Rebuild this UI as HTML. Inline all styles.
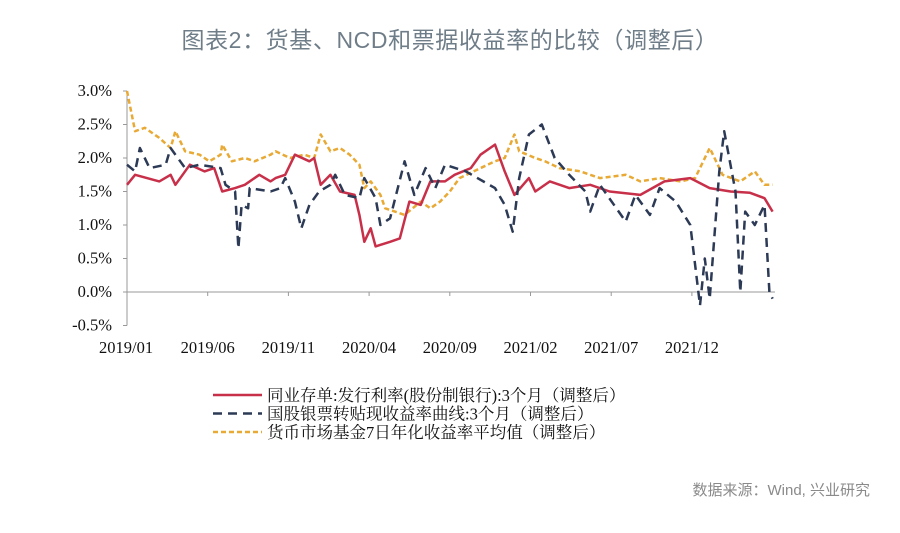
<!DOCTYPE html>
<html><head><meta charset="utf-8">
<style>
body{margin:0;background:#fff;width:900px;height:533px;overflow:hidden;position:relative;font-family:"Liberation Sans","Noto Sans CJK SC",sans-serif}
#title{position:absolute;left:0;width:900px;top:21px;text-align:center;font-size:23px;color:#6f7d88;letter-spacing:0.6px}
#src{position:absolute;right:30px;top:479px;font-size:15px;color:#8a8a8a}
svg{position:absolute;left:0;top:0}
</style></head>
<body>
<div id="title">图表2：货基、NCD和票据收益率的比较（调整后）</div>
<div id="src">数据来源：Wind, 兴业研究</div>
<svg id="chart" width="900" height="533"></svg>
<script>
const yTicks=[3.0,2.5,2.0,1.5,1.0,0.5,0.0,-0.5];
const xLabels=["2019/01","2019/06","2019/11","2020/04","2020/09","2021/02","2021/07","2021/12"];
const xTickMonths=[0,5,10,15,20,25,30,35];
const goldM=[0,0.5,1.1,2.0,2.7,3.0,3.6,4.5,5.1,5.8,5.9,6.5,7.3,7.9,8.9,9.2,10.1,11.0,11.6,12.0,12.6,13.2,13.8,14.4,14.7,15.1,15.7,16.0,16.6,17.2,18.2,18.8,19.4,20.0,20.6,21.9,22.8,23.4,24.0,24.3,25.3,25.9,26.8,28.1,29.3,30.9,31.8,33.0,34.3,35.2,36.1,36.9,38.0,38.9,39.5,40.0];
const goldV=[3.0,2.4,2.45,2.3,2.15,2.4,2.1,2.05,1.95,2.05,2.2,1.95,2.0,1.95,2.05,2.1,2.0,2.05,2.0,2.35,2.1,2.15,2.05,1.9,1.55,1.65,1.45,1.25,1.2,1.15,1.35,1.25,1.35,1.5,1.7,1.85,1.95,2.0,2.35,2.1,2.0,1.95,1.85,1.8,1.7,1.75,1.65,1.7,1.65,1.7,2.15,1.75,1.65,1.8,1.6,1.6];
const redM=[0,0.5,2.0,2.7,3.0,3.9,4.8,5.4,5.9,6.7,7.3,8.2,8.9,9.2,9.8,10.4,11.3,11.6,12.0,12.6,13.2,14.1,14.4,14.7,15.1,15.4,16.3,16.9,17.5,18.2,18.8,19.7,20.3,21.3,21.9,22.8,23.4,24.0,24.9,25.3,26.2,27.4,28.7,29.9,31.8,33.3,34.9,36.1,37.4,38.6,39.5,40.0];
const redV=[1.6,1.75,1.65,1.75,1.6,1.9,1.8,1.85,1.5,1.55,1.6,1.75,1.65,1.7,1.75,2.05,1.95,2.0,1.6,1.75,1.5,1.45,1.15,0.75,0.95,0.68,0.75,0.8,1.35,1.3,1.65,1.65,1.75,1.85,2.05,2.2,1.8,1.45,1.7,1.5,1.65,1.55,1.6,1.5,1.45,1.65,1.7,1.55,1.5,1.48,1.4,1.2];
const navyM=[0,0.5,0.8,1.4,2.4,2.7,3.6,4.5,5.8,6.1,6.7,6.9,7.1,7.5,7.6,8.9,9.5,9.8,10.4,10.8,11.3,11.9,12.6,12.9,13.5,14.4,14.7,15.4,15.7,16.3,17.2,17.8,18.5,19.1,19.7,21.0,22.8,23.4,23.9,24.3,24.9,25.7,26.5,27.4,28.4,28.7,29.3,30.9,31.5,32.4,33.0,34.0,34.9,35.5,35.8,36.1,36.7,37.0,37.7,38.0,38.3,38.9,39.5,39.8,40.0];
const navyV=[1.9,1.8,2.15,1.85,1.9,2.15,1.85,1.9,1.85,1.6,1.5,0.65,1.3,1.25,1.55,1.5,1.55,1.7,1.35,0.95,1.3,1.5,1.6,1.75,1.45,1.4,1.7,1.4,1.0,1.1,1.95,1.45,1.85,1.55,1.9,1.8,1.55,1.3,0.9,1.7,2.35,2.5,2.0,1.75,1.5,1.2,1.6,1.05,1.45,1.15,1.55,1.35,1.0,-0.2,0.5,-0.1,1.8,2.4,1.5,0.0,1.2,1.0,1.3,0.0,-0.1];
const NS="http://www.w3.org/2000/svg";
const svg=document.getElementById('chart');
const x=m=>127+m*16.14;
const y=v=>292-v*67;
function mk(tag,attrs,parent){const e=document.createElementNS(NS,tag);for(const k in attrs)e.setAttribute(k,attrs[k]);(parent||svg).appendChild(e);return e;}
const ax=mk('line',{x1:127,y1:y(3.0),x2:127,y2:y(-0.5),stroke:'#999','stroke-width':1});


const xa=mk('line',{x1:127,y1:y(0),x2:775,y2:y(0),stroke:'#999','stroke-width':1});


yTicks.forEach(v=>{
  mk('line',{x1:123,y1:y(v),x2:127,y2:y(v),stroke:'#999'});
  const t=mk('text',{x:112,y:y(v)+5,'text-anchor':'end','font-size':16.5,'font-family':'Liberation Serif,serif',fill:'#111'});
  t.textContent=v.toFixed(1)+'%';
  
  
});
xTickMonths.forEach((m,i)=>{
  mk('line',{x1:x(m),y1:y(0),x2:x(m),y2:y(0)+4,stroke:'#999'});
  const t=mk('text',{x:x(m),y:353,'text-anchor':i===0?'start':'middle','font-size':16.5,'font-family':'Liberation Serif,serif',fill:'#111'});
  if(i===0){t.setAttribute('x',99);}
  t.textContent=xLabels[i];
  
  
});
function series(M,V,attrs,name){
  const d=M.map((m,i)=>(i?'L':'M')+x(m).toFixed(1)+','+y(V[i]).toFixed(1)).join('');
  const p=mk('path',Object.assign({d:d,fill:'none','stroke-linejoin':'round'},attrs));
  
  
}
series(goldM,goldV,{stroke:'#e8a935','stroke-width':2.5,'stroke-dasharray':'5,3'},'series-money-fund');
series(redM,redV,{stroke:'#c8304a','stroke-width':2.5},'series-ncd');
series(navyM,navyV,{stroke:'#2c3a56','stroke-width':2.5,'stroke-dasharray':'9,6'},'series-bill');
const leg=[['#c8304a','','同业存单:发行利率(股份制银行):3个月（调整后）','legend-ncd'],['#2c3a56','9,6','国股银票转贴现收益率曲线:3个月（调整后）','legend-bill'],['#e8a935','5,3','货币市场基金7日年化收益率平均值（调整后）','legend-money-fund']];
leg.forEach((l,i)=>{
  const g=mk('g',{});
  
  
  const yy=395+i*18.5;
  mk('line',{x1:213,y1:yy,x2:262,y2:yy,stroke:l[0],'stroke-width':2.5,'stroke-dasharray':l[1]},g);
  const t=mk('text',{x:267,y:yy+6,'font-size':16.5,'font-family':'Liberation Serif,Noto Serif CJK SC,serif',fill:'#111'},g);
  t.textContent=l[2];
});
</script>
</body></html>
